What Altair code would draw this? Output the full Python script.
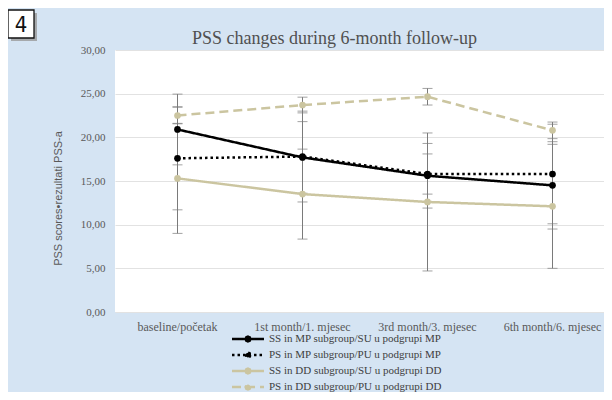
import altair as alt
import pandas as pd

categories = ["baseline/početak", "1st month/1. mjesec", "3rd month/3. mjesec", "6th month/6. mjesec"]
series_names = [
    "SS in MP subgroup/SU u podgrupi MP",
    "PS in MP subgroup/PU u podgrupi MP",
    "SS in DD subgroup/SU u podgrupi DD",
    "PS in DD subgroup/PU u podgrupi DD",
]
ss_mp = [20.9, 17.7, 15.6, 14.5]
ss_mp_sd = [4.05, 4.1, 3.7, 5.0]
ps_mp = [17.6, 17.8, 15.8, 15.8]
ps_mp_sd = [5.9, 5.2, 2.3, 5.7]
ss_dd = [15.3, 13.5, 12.6, 12.1]
ss_dd_sd = [6.3, 5.15, 7.9, 7.1]
ps_dd = [22.5, 23.7, 24.65, 20.8]
ps_dd_sd = [0.95, 0.9, 0.95, 0.95]
y_ticks = [0, 5, 10, 15, 20, 25, 30]

means = [ss_mp, ps_mp, ss_dd, ps_dd]
sds = [ss_mp_sd, ps_mp_sd, ss_dd_sd, ps_dd_sd]
rows = []
for s, m, d in zip(series_names, means, sds):
    for c, mv, dv in zip(categories, m, d):
        rows.append({"cat": c, "series": s, "mean": mv, "lo": mv - dv, "hi": mv + dv})
df = pd.DataFrame(rows)

BLACK = "#000000"
TAN = "#cbc5a0"
ERR = "#7a7a7a"
SERIF = "Liberation Serif"

x_scale = alt.Scale(range=[0, 500])
x_enc = alt.X("cat:N", sort=categories, title=None, scale=x_scale,
              axis=alt.Axis(labelAngle=0, ticks=False, domain=False, grid=False,
                            labelFont=SERIF, labelFontSize=12, labelColor="#595959",
                            labelPadding=9))
y_scale = alt.Scale(domain=[0, 30])
y_axis = alt.Axis(values=y_ticks, labelExpr="replace(format(datum.value, '.2f'), '.', ',')",
                  ticks=False, domain=False, gridColor="#e2e2e2", gridWidth=1.2,
                  labelFont=SERIF, labelFontSize=11, labelColor="#595959", labelPadding=10,
                  title="PSS scores•rezultati PSS-a", titleFont="Liberation Sans",
                  titleFontSize=11, titleFontWeight="normal", titleColor="#595959",
                  titleX=-57, titleY=148, titleAngle=270, titleBaseline="middle")

sym_path = ("M-3.37,0L3.37,0"
            "M0.5,0L0.354,0.354L0,0.5L-0.354,0.354L-0.5,0L-0.354,-0.354L0,-0.5L0.354,-0.354Z"
            "M0.19,0L0,0.19L-0.19,0L0,-0.19Z")
legend = alt.Legend(title=None, orient="none", legendX=127, legendY=283,
                    symbolType=sym_path, symbolSize=90, symbolStrokeWidth=2.5,
                    labelFont=SERIF, labelFontSize=11, labelColor="#404040",
                    labelOffset=15, rowPadding=0, padding=0, labelLimit=400)

color_scale = alt.Scale(domain=series_names, range=[BLACK, BLACK, TAN, TAN])
dash_scale = alt.Scale(domain=series_names, range=[[1, 0], [2.5, 3], [1, 0], [9, 5]])

base = alt.Chart(df)

err_rule = base.mark_rule(color=ERR, strokeWidth=1).encode(
    x=x_enc, y=alt.Y("lo:Q", scale=y_scale, axis=y_axis), y2="hi:Q")
err_lo = base.mark_tick(color=ERR, size=10, thickness=1).encode(x=x_enc, y=alt.Y("lo:Q", scale=y_scale))
err_hi = base.mark_tick(color=ERR, size=10, thickness=1).encode(x=x_enc, y=alt.Y("hi:Q", scale=y_scale))

lines = base.mark_line(strokeWidth=2.5).encode(
    x=x_enc,
    y=alt.Y("mean:Q", scale=y_scale),
    color=alt.Color("series:N", scale=color_scale, sort=series_names, legend=legend),
    strokeDash=alt.StrokeDash("series:N", scale=dash_scale, sort=series_names, legend=legend),
    detail="series:N",
)
points = base.mark_point(filled=True, size=45, opacity=1).encode(
    x=x_enc,
    y=alt.Y("mean:Q", scale=y_scale),
    color=alt.Color("series:N", scale=color_scale, sort=series_names, legend=legend),
)

badge_data = alt.Data(values=[{"label": "4"}])
shadow = alt.Chart(badge_data).mark_rect(color="#9a9a9a", opacity=0.8).encode(
    x=alt.value(-104), x2=alt.value(-78), y=alt.value(-37), y2=alt.value(-9))
box = alt.Chart(badge_data).mark_rect(fill="white", stroke="#111111", strokeWidth=1.3).encode(
    x=alt.value(-107), x2=alt.value(-81), y=alt.value(-40), y2=alt.value(-12))
badge_text = alt.Chart(badge_data).mark_text(font="DejaVu Sans Condensed", fontSize=22,
                                             color="#111111", baseline="middle", align="center").encode(
    x=alt.value(-94), y=alt.value(-25.5), text="label:N")

chart = alt.layer(err_rule, err_lo, err_hi, lines, points, shadow, box, badge_text).properties(
    width=489, height=262,
    title=alt.Title("PSS changes during 6-month follow-up", font=SERIF, fontSize=18,
                    fontWeight="normal", color="#505050", anchor="middle", dx=-25,
                    baseline="bottom", offset=-57),
    autosize=alt.AutoSizeParams(type="none"),
    padding={"left": 107, "top": 42, "right": 0, "bottom": 80},
).configure(background="#d5e4f3").configure_view(stroke=None, fill="white")

chart.save("out.html", embed_options={"renderer": "svg", "actions": False})
